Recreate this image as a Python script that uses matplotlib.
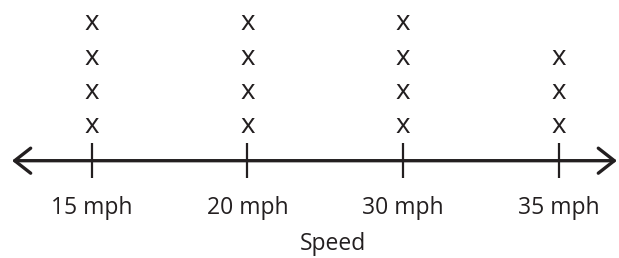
import matplotlib
matplotlib.use('Agg')
from matplotlib import pyplot as plt

plt.rcParams['font.family'] = ['Open Sans', 'DejaVu Sans']

# data
speeds = ['15 mph', '20 mph', '30 mph', '35 mph']
counts = [4, 4, 4, 3]
axis_title = 'Speed'

fig = plt.figure(figsize=(6.19, 2.58), dpi=100)
ax = fig.add_axes([0, 0, 1, 1])
ax.set_xlim(-0.589, 3.387)
ax.set_ylim(-2.837, 4.685)
ax.axis('off')

ink = '#231f20'

# number line with arrows at both ends
ax.annotate('', xy=(-0.512, 0), xytext=(3.374, 0),
            arrowprops=dict(arrowstyle='<->,head_length=1.15,head_width=0.9',
                            lw=2.4, color=ink, mutation_scale=10,
                            shrinkA=0, shrinkB=0))

for i, (lab, n) in enumerate(zip(speeds, counts)):
    ax.plot([i, i], [-0.51, 0.51], color=ink, lw=1.6, solid_capstyle='butt')
    ax.text(i, -1.55, lab, ha='center', va='baseline', fontsize=16.5, color=ink)
    for k in range(n):
        ax.text(i, k + 1.0, 'x', ha='center', va='center', fontsize=20, color=ink)

ax.text(1.55, -2.6, axis_title, ha='center', va='baseline', fontsize=16.5, color=ink)

fig.savefig('out.png', dpi=100)
